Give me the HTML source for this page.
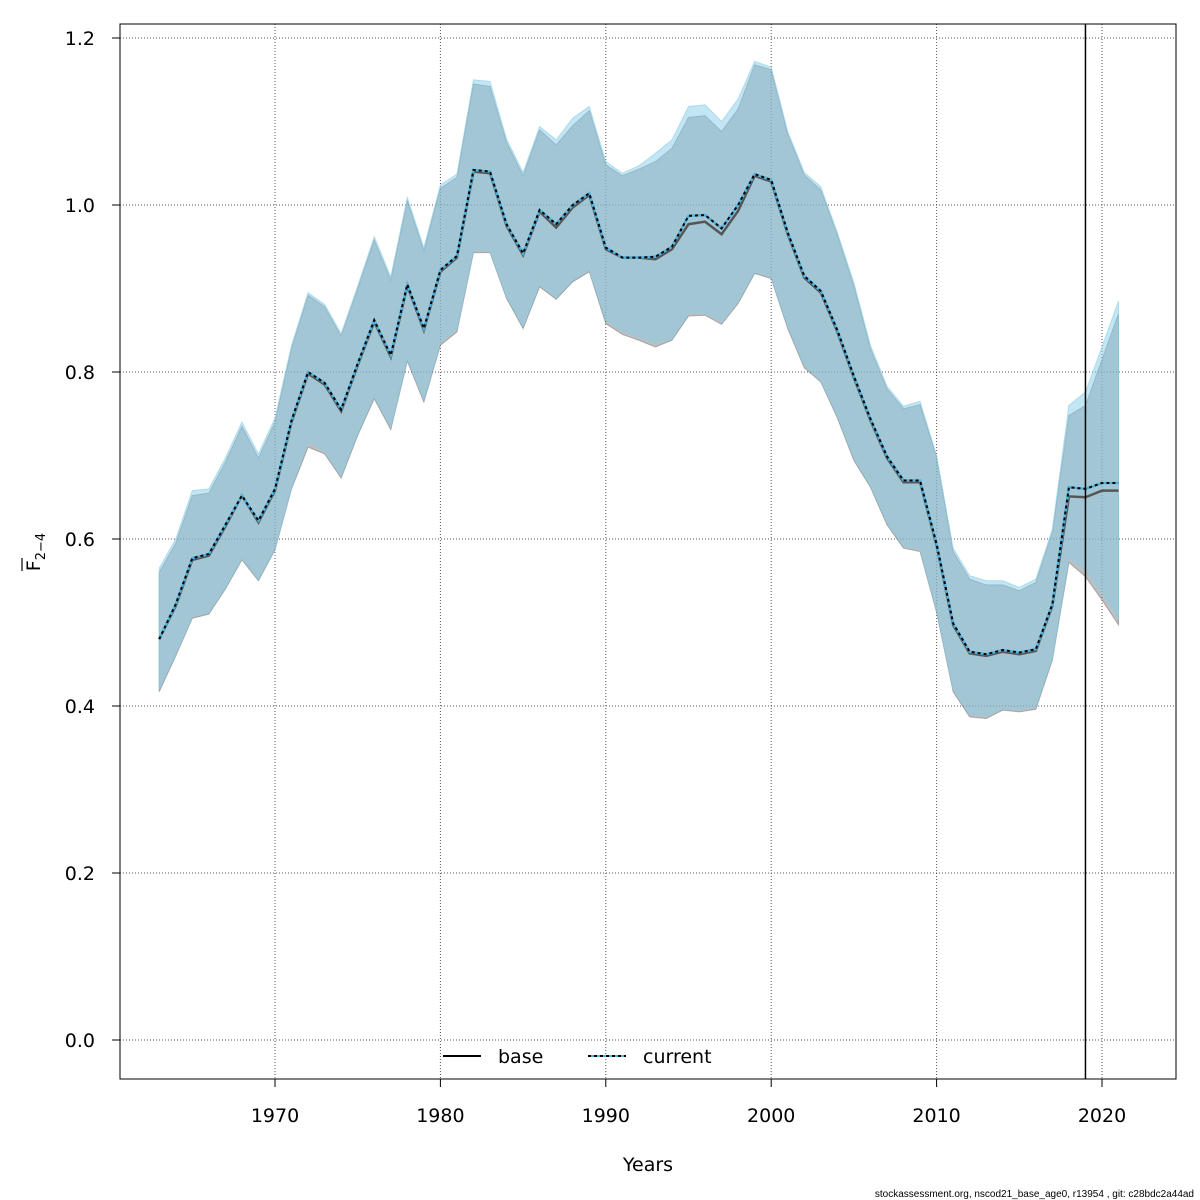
<!DOCTYPE html>
<html><head><meta charset="utf-8">
<style>
body{margin:0;background:#fff;}
svg{display:block;font-family:"DejaVu Sans","Liberation Sans",sans-serif;}
</style></head>
<body>
<svg id="chart" width="1200" height="1200" viewBox="0 0 1200 1200" xmlns="http://www.w3.org/2000/svg"></svg>
<script>
const years = [];
for (let y = 1963; y <= 2021; y++) years.push(y);
const baseMean = [0.48,0.52,0.575,0.58,0.615,0.652,0.62,0.658,0.74,0.798,0.785,0.753,0.808,0.86,0.818,0.903,0.85,0.92,0.937,1.04,1.038,0.975,0.94,0.992,0.973,0.997,1.012,0.947,0.937,0.937,0.935,0.947,0.977,0.98,0.965,0.993,1.035,1.028,0.965,0.913,0.895,0.848,0.793,0.742,0.697,0.668,0.668,0.592,0.497,0.463,0.46,0.465,0.462,0.466,0.52,0.651,0.65,0.658,0.658];
const baseLow = [0.417,0.46,0.505,0.51,0.54,0.575,0.55,0.587,0.66,0.71,0.702,0.673,0.724,0.768,0.731,0.813,0.764,0.832,0.848,0.943,0.943,0.888,0.852,0.902,0.887,0.908,0.92,0.858,0.845,0.838,0.83,0.838,0.867,0.868,0.857,0.882,0.918,0.912,0.852,0.805,0.788,0.745,0.694,0.662,0.617,0.589,0.585,0.512,0.417,0.387,0.385,0.395,0.393,0.396,0.455,0.572,0.555,0.527,0.497];
const baseHigh = [0.56,0.595,0.652,0.655,0.692,0.735,0.697,0.74,0.828,0.892,0.878,0.843,0.9,0.958,0.91,1.005,0.945,1.02,1.033,1.145,1.142,1.075,1.035,1.09,1.072,1.095,1.113,1.048,1.035,1.043,1.052,1.068,1.105,1.107,1.088,1.115,1.168,1.162,1.085,1.036,1.018,0.964,0.903,0.828,0.78,0.756,0.761,0.698,0.585,0.552,0.545,0.545,0.538,0.548,0.608,0.748,0.76,0.815,0.87];
const curMean = [0.48,0.522,0.577,0.582,0.617,0.652,0.622,0.66,0.742,0.8,0.787,0.755,0.81,0.862,0.82,0.905,0.852,0.922,0.939,1.042,1.04,0.977,0.942,0.994,0.977,1.0,1.014,0.949,0.937,0.937,0.938,0.95,0.987,0.988,0.972,1.0,1.037,1.03,0.967,0.915,0.897,0.85,0.795,0.744,0.699,0.67,0.67,0.594,0.499,0.465,0.462,0.467,0.464,0.468,0.522,0.662,0.66,0.667,0.667];
const curLow = [0.42,0.462,0.507,0.512,0.542,0.577,0.552,0.589,0.662,0.716,0.705,0.676,0.727,0.771,0.734,0.816,0.767,0.835,0.852,0.946,0.945,0.89,0.855,0.905,0.889,0.91,0.922,0.862,0.849,0.842,0.834,0.84,0.87,0.871,0.86,0.885,0.92,0.914,0.855,0.808,0.79,0.748,0.697,0.664,0.62,0.591,0.588,0.515,0.42,0.39,0.388,0.397,0.396,0.399,0.458,0.577,0.563,0.535,0.505];
const curHigh = [0.565,0.6,0.658,0.66,0.697,0.74,0.702,0.745,0.832,0.895,0.881,0.846,0.903,0.962,0.914,1.009,0.949,1.024,1.037,1.15,1.148,1.079,1.039,1.094,1.078,1.104,1.118,1.052,1.038,1.047,1.062,1.078,1.118,1.12,1.1,1.127,1.172,1.165,1.088,1.039,1.022,0.967,0.907,0.832,0.783,0.759,0.765,0.7,0.589,0.556,0.55,0.55,0.542,0.552,0.612,0.76,0.776,0.83,0.885];
const xTicks = [1970,1980,1990,2000,2010,2020];
const yTicks = [0,0.2,0.4,0.6,0.8,1.0,1.2];
const yTickLabels = ["0.0","0.2","0.4","0.6","0.8","1.0","1.2"];
const refYear = 2019;

const NS = "http://www.w3.org/2000/svg";
const svg = document.getElementById('chart');
const L = 120, R = 1176, T = 24, B = 1079;
const sx = y => 275 + (y - 1970) * (1102 - 275) / 50;
const sy = v => 1040 - v * (1040 - 38) / 1.2;
function mk(tag, attrs, parent) {
  const e = document.createElementNS(NS, tag);
  for (const k in attrs) e.setAttribute(k, attrs[k]);
  (parent || svg).appendChild(e);
  return e;
}
const grid = mk('g', {});


xTicks.forEach(t => mk('line', {x1: sx(t), x2: sx(t), y1: T, y2: B, stroke: '#555', 'stroke-width': 1, 'stroke-dasharray': '1,2'}, grid));
yTicks.forEach(t => mk('line', {x1: L, x2: R, y1: sy(t), y2: sy(t), stroke: '#555', 'stroke-width': 1, 'stroke-dasharray': '1,2'}, grid));

function band(lo, hi, fill, stroke, name) {
  let d = '';
  years.forEach((y, i) => { d += (i ? 'L' : 'M') + sx(y) + ',' + sy(hi[i]); });
  for (let i = years.length - 1; i >= 0; i--) d += 'L' + sx(years[i]) + ',' + sy(lo[i]);
  const p = mk('path', {d: d + 'Z', fill: fill, stroke: stroke, 'stroke-width': 1});
  
  
}
function line(vals, attrs, name) {
  const pts = years.map((y, i) => sx(y) + ',' + sy(vals[i])).join(' ');
  const a = Object.assign({points: pts, fill: 'none'}, attrs);
  const p = mk('polyline', a);
  
  
}
band(baseLow, baseHigh, 'rgba(128,128,128,0.5)', 'rgba(110,110,110,0.5)', 'base-ci-band');
band(curLow, curHigh, 'rgba(135,206,235,0.5)', 'rgba(135,206,235,0.6)', 'current-ci-band');
line(baseMean, {stroke: '#555', 'stroke-width': 2.5}, 'base-line');
line(curMean, {stroke: '#4fb3e0', 'stroke-width': 2.5}, 'current-line-color');
line(curMean, {stroke: '#000', 'stroke-width': 2, 'stroke-dasharray': '3,3'}, 'current-line');

const rl = mk('line', {x1: sx(refYear), x2: sx(refYear), y1: T, y2: B, stroke: '#000', 'stroke-width': 1.5});



const fr = mk('rect', {x: L, y: T, width: R - L, height: B - T, fill: 'none', stroke: '#000', 'stroke-width': 1});



xTicks.forEach(t => {
  mk('line', {x1: sx(t), x2: sx(t), y1: B, y2: B + 8, stroke: '#000'});
  const tx = mk('text', {x: sx(t), y: 1122, 'text-anchor': 'middle', 'font-size': 19});
  tx.textContent = t;
  
  
});
yTicks.forEach((t, i) => {
  mk('line', {x1: L - 8, x2: L, y1: sy(t), y2: sy(t), stroke: '#000'});
  const tx = mk('text', {x: 95, y: sy(t) + 7, 'text-anchor': 'end', 'font-size': 19});
  tx.textContent = yTickLabels[i];
  
  
});
</script>
<svg style="position:absolute;left:0;top:0" width="1200" height="1200" font-family="DejaVu Sans, Liberation Sans, sans-serif">
  <text x="648" y="1171" text-anchor="middle" font-size="19">Years</text>
  <g transform="translate(40,552) rotate(-90)">
    <line x1="-19" x2="-6" y1="-18" y2="-18" stroke="#000" stroke-width="1.2"/>
    <text x="0" y="0" text-anchor="middle" font-size="19">F<tspan font-size="13" dy="5">2−4</tspan></text>
  </g>
  <g font-size="19">
    <g>
      <line x1="443" x2="481" y1="1056" y2="1056" stroke="#000" stroke-width="2"/>
      <text x="498" y="1063">base</text>
    </g>
    <g>
      <line x1="588" x2="626" y1="1056" y2="1056" stroke="#4fb3e0" stroke-width="2"/>
      <line x1="588" x2="626" y1="1056" y2="1056" stroke="#000" stroke-width="2" stroke-dasharray="3,3"/>
      <text x="643" y="1063">current</text>
    </g>
  </g>
  <text x="1194" y="1197" text-anchor="end" font-size="10" font-family="Liberation Sans, sans-serif">stockassessment.org, nscod21_base_age0, r13954 , git: c28bdc2a44ad</text>
</svg>
</body></html>
